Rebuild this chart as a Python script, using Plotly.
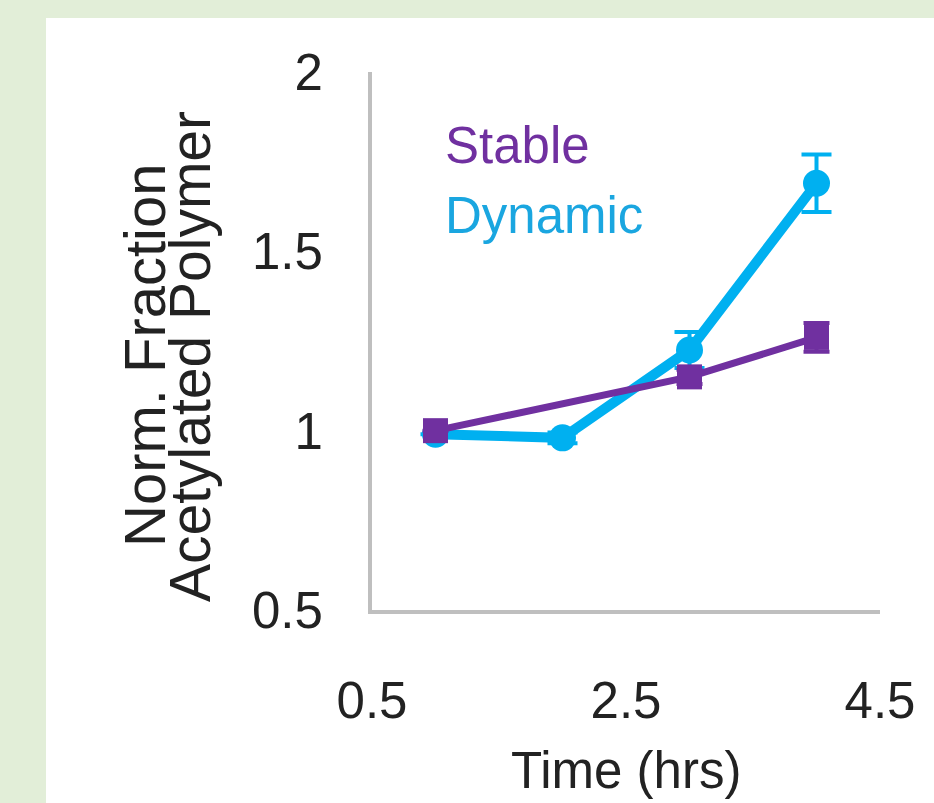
import plotly.graph_objects as go

# Time points (hrs) and normalized fraction of acetylated polymer
stable_time = [1, 3, 4]
stable_vals = [1.0, 1.15, 1.26]
stable_err = [0.0, 0.02, 0.04]

dynamic_time = [1, 2, 3, 4]
dynamic_vals = [0.99, 0.98, 1.225, 1.69]
dynamic_err = [0.0, 0.015, 0.05, 0.08]

x_ticks = [0.5, 2.5, 4.5]
y_ticks = [0.5, 1, 1.5, 2]

PURPLE = "#7030a0"
CYAN = "#00b0f0"
TEXT = "#222222"
FONT = "Liberation Sans, Arial, sans-serif"

fig = go.Figure()

fig.add_trace(go.Scatter(
    x=dynamic_time, y=dynamic_vals, mode="lines+markers", name="Dynamic",
    line=dict(color=CYAN, width=10),
    marker=dict(color=CYAN, size=27, symbol="circle"),
    error_y=dict(type="data", array=dynamic_err, color=CYAN, thickness=4, width=15),
    showlegend=False, hoverinfo="skip",
))
fig.add_trace(go.Scatter(
    x=stable_time, y=stable_vals, mode="lines+markers", name="Stable",
    line=dict(color=PURPLE, width=7),
    marker=dict(color=PURPLE, size=25, symbol="square"),
    error_y=dict(type="data", array=stable_err, color=PURPLE, thickness=4, width=13),
    showlegend=False, hoverinfo="skip",
))

W, H = 934, 803
L, R, T, B = 372, 54, 72, 193
pw, ph = W - L - R, H - T - B


def px_x(v):
    return (v - L) / pw


def px_y(v):
    return (H - B - v) / ph


fig.update_layout(
    width=W, height=H,
    margin=dict(l=L, r=R, t=T, b=B),
    paper_bgcolor="#e2eed8",
    plot_bgcolor="rgba(0,0,0,0)",
    xaxis=dict(
        range=[0.5, 4.5], tickvals=x_ticks,
        showgrid=False, zeroline=False,
        showline=True, linecolor="#bfbfbf", linewidth=4, ticks="",
        tickfont=dict(family=FONT, size=51, color=TEXT),
        ticklabelstandoff=43,
    ),
    yaxis=dict(
        range=[0.5, 2.0], tickvals=y_ticks,
        showgrid=False, zeroline=False,
        showline=True, linecolor="#bfbfbf", linewidth=4, ticks="",
        tickfont=dict(family=FONT, size=51, color=TEXT),
        ticklabelstandoff=35,
    ),
    shapes=[dict(
        type="rect", xref="paper", yref="paper", layer="below",
        x0=px_x(46), x1=px_x(W + 10), y0=px_y(H + 10), y1=px_y(18),
        fillcolor="white", line=dict(width=0),
    )],
    annotations=[
        dict(text="Stable", x=1.06, y=1.794, xref="x", yref="y",
             xanchor="left", yanchor="middle", showarrow=False,
             font=dict(family=FONT, size=51, color=PURPLE)),
        dict(text="Dynamic", x=1.06, y=1.601, xref="x", yref="y",
             xanchor="left", yanchor="middle", showarrow=False,
             font=dict(family=FONT, size=51, color="#1aa6e0")),
        dict(text="Time (hrs)", x=px_x(626), y=px_y(770), xref="paper", yref="paper",
             xanchor="center", yanchor="middle", showarrow=False,
             font=dict(family=FONT, size=51, color=TEXT)),
        dict(text="Norm. Fraction", x=px_x(144), y=px_y(355), xref="paper", yref="paper",
             xanchor="center", yanchor="middle", showarrow=False, textangle=-90,
             font=dict(family=FONT, size=58, color=TEXT)),
        dict(text="Acetylated Polymer", x=px_x(190), y=px_y(357), xref="paper", yref="paper",
             xanchor="center", yanchor="middle", showarrow=False, textangle=-90,
             font=dict(family=FONT, size=57, color=TEXT)),
    ],
)

fig.write_html("out.html")
